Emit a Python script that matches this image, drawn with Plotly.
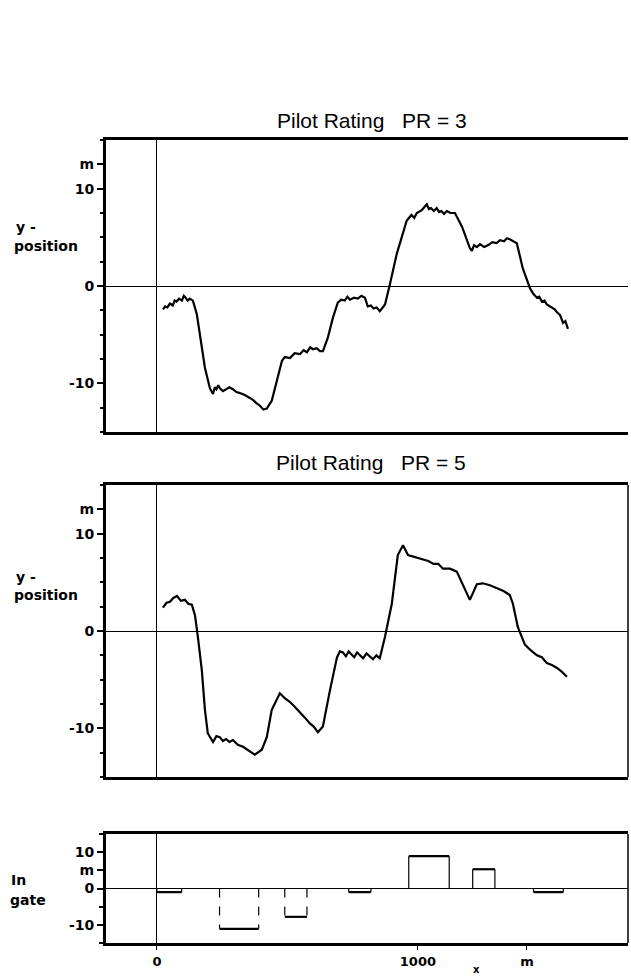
import plotly.graph_objects as go

# ---------------- data ----------------
pr3_x = [23, 32, 40, 50, 61, 68, 75, 85, 96, 103, 110, 118, 126, 138, 153, 165, 184, 203, 215,
         222, 228, 235, 241, 253, 265, 278, 291, 305, 318, 337, 356, 368, 380, 395, 408, 421,
         440, 460, 479, 490, 510, 528, 548, 562, 575, 587, 598, 612, 625, 636, 655, 674, 693,
         706, 720, 730, 740, 755, 770, 784, 797, 808, 820, 830, 842, 854, 874, 893, 919, 957,
         975, 986, 996, 1015, 1034, 1042, 1050, 1061, 1072, 1081, 1090, 1100, 1111, 1125, 1142,
         1169, 1199, 1207, 1215, 1226, 1238, 1254, 1270, 1285, 1301, 1315, 1330, 1341, 1352,
         1379, 1402, 1429, 1442, 1456, 1465, 1475, 1485, 1494, 1505, 1515, 1524, 1533, 1545,
         1556, 1565, 1575]
pr3_y = [-2.4, -2.1, -2.2, -1.8, -2.0, -1.5, -1.6, -1.3, -1.5, -1.0, -1.2, -1.5, -1.3, -1.5,
         -2.9, -4.9, -8.4, -10.5, -11.1, -10.4, -10.6, -10.2, -10.5, -10.8, -10.6, -10.4, -10.6,
         -10.9, -11.0, -11.2, -11.5, -11.7, -12.0, -12.3, -12.7, -12.6, -11.8, -9.7, -7.7, -7.3,
         -7.4, -6.9, -7.0, -6.6, -6.8, -6.3, -6.5, -6.4, -6.7, -6.7, -5.3, -3.3, -1.7, -1.4,
         -1.5, -1.1, -1.4, -1.2, -1.3, -1.0, -1.2, -2.1, -2.0, -2.3, -2.2, -2.6, -1.9, 0.2, 3.3,
         6.7, 7.3, 7.0, 7.5, 7.8, 8.4, 7.9, 8.0, 7.7, 8.0, 7.6, 7.7, 7.4, 7.7, 7.5, 7.5, 6.1,
         3.9, 3.6, 4.2, 4.0, 4.3, 4.0, 4.2, 4.5, 4.4, 4.7, 4.6, 4.9, 4.8, 4.4, 1.8, -0.2,
         -0.8, -1.2, -1.1, -1.6, -1.5, -1.9, -2.1, -2.3, -2.4, -2.7, -3.0, -3.8, -3.6, -4.4]

pr5_x = [23, 37, 50, 63, 77, 92, 107, 120, 134, 146, 157, 172, 184, 195, 215, 228, 241, 253,
         265, 278, 291, 310, 330, 352, 375, 402, 421, 440, 471, 490, 510, 529, 548, 567, 586,
         600, 617, 636, 663, 690, 701, 713, 724, 735, 745, 756, 767, 778, 790, 803, 815, 828,
         841, 854, 874, 900, 923, 943, 962, 990, 1019, 1040, 1060, 1078, 1096, 1123, 1149,
         1172, 1199, 1226, 1249, 1276, 1303, 1328, 1352, 1364, 1383, 1410, 1433, 1456, 1475,
         1494, 1513, 1533, 1552, 1571]
pr5_y = [2.4, 2.9, 3.0, 3.4, 3.6, 3.1, 3.2, 2.8, 2.7, 1.6, -0.6, -4.0, -8.1, -10.5, -11.4,
         -10.8, -10.9, -11.3, -11.1, -11.4, -11.2, -11.7, -11.9, -12.3, -12.7, -12.2, -10.9,
         -8.1, -6.4, -6.9, -7.3, -7.8, -8.3, -8.9, -9.5, -9.8, -10.4, -9.8, -6.1, -2.7, -2.1,
         -2.2, -2.6, -2.1, -2.4, -2.7, -2.2, -2.5, -2.8, -2.3, -2.6, -2.9, -2.5, -2.8, -0.6,
         2.8, 7.8, 8.8, 7.8, 7.6, 7.4, 7.2, 6.9, 6.9, 6.4, 6.4, 6.1, 4.8, 3.2, 4.8, 4.9, 4.7,
         4.4, 4.1, 3.7, 2.8, 0.4, -1.4, -2.0, -2.5, -2.7, -3.3, -3.5, -3.8, -4.2, -4.7]

gate_start = [0, 240, 490, 735, 965, 1210, 1443]
gate_end = [95, 390, 575, 820, 1120, 1295, 1557]
gate_value = [-1.0, -11.1, -7.8, -1.0, 8.9, 5.3, -1.0]

y_tickvals = [-10, 0, 10, 12.5]
y_ticktext = ["-10", "0", "10", "m"]
gate_tickvals = [-10, 0, 5, 10]
gate_ticktext = ["-10", "0", "m", "10"]
x_tickvals = [0, 1000, 1418]
x_ticktext = ["0", "1000", "m"]

# ---------------- layout helpers ----------------
W, H = 631, 979


def py(p):
    return 1 - p / H


XDOM = [106 / W, 628 / W]
XR = [-195, 1805]
TICKFONT = dict(family="DejaVu Sans", size=14, color="black", weight="bold")
LABFONT = dict(family="DejaVu Sans", size=14, color="black", weight="bold")

fig = go.Figure()

fig.add_trace(go.Scatter(x=pr3_x, y=pr3_y, xaxis="x", yaxis="y", mode="lines",
                         line=dict(color="black", width=2.2), showlegend=False))
fig.add_trace(go.Scatter(x=pr5_x, y=pr5_y, xaxis="x2", yaxis="y2", mode="lines",
                         line=dict(color="black", width=2.2), showlegend=False))

for s, e, v in zip(gate_start, gate_end, gate_value):
    fig.add_trace(go.Scatter(x=[s, e], y=[v, v], xaxis="x3", yaxis="y3", mode="lines",
                             line=dict(color="black", width=2.2), showlegend=False))
    fig.add_trace(go.Scatter(x=[s, s, None, e, e], y=[0, v, None, 0, v], xaxis="x3", yaxis="y3",
                             mode="lines",
                             line=dict(color="black", width=1.2,
                                       dash="dash" if v < -2 else "solid"),
                             showlegend=False))

xcommon = dict(range=XR, domain=XDOM, showline=True, linecolor="black", linewidth=2.5,
               mirror=True, zeroline=True, zerolinecolor="black", zerolinewidth=1,
               showgrid=False, fixedrange=True)
ycommon = dict(range=[-15, 15], showline=True, linecolor="black", linewidth=3,
               ticks="outside", ticklen=6, tickwidth=1.5, tickcolor="black",
               tickfont=TICKFONT, tickmode="array", zeroline=True, zerolinecolor="black",
               zerolinewidth=1, showgrid=False, fixedrange=True)

fig.update_layout(
    width=W, height=H,
    margin=dict(l=0, r=0, t=0, b=0),
    paper_bgcolor="white", plot_bgcolor="white",
    showlegend=False,
    xaxis=dict(xcommon, anchor="y", showticklabels=False, ticks=""),
    xaxis2=dict(xcommon, anchor="y2", showticklabels=False, ticks=""),
    xaxis3=dict(xcommon, anchor="y3", showticklabels=True, tickmode="array",
                tickvals=x_tickvals, ticktext=x_ticktext, ticks="outside", ticklen=4,
                tickcolor="black", tickfont=dict(TICKFONT, size=13), ticklabelstandoff=1),
    yaxis=dict(ycommon, anchor="x", domain=[py(432), py(140)],
               tickvals=y_tickvals, ticktext=y_ticktext,
               minor=dict(tickmode="array",
                          tickvals=[-15, -12.5, -7.5, -5, -2.5, 2.5, 5, 7.5, 15],
                          ticks="outside", ticklen=3, tickcolor="black")),
    yaxis2=dict(ycommon, anchor="x2", domain=[py(777), py(485)],
                tickvals=y_tickvals, ticktext=y_ticktext,
                minor=dict(tickmode="array",
                           tickvals=[-15, -12.5, -7.5, -5, -2.5, 2.5, 5, 7.5, 15],
                           ticks="outside", ticklen=3, tickcolor="black")),
    yaxis3=dict(ycommon, anchor="x3", domain=[py(943), py(834)],
                tickvals=gate_tickvals, ticktext=gate_ticktext,
                minor=dict(tickmode="array", tickvals=[-15, -5, 15],
                           ticks="outside", ticklen=4, tickcolor="black")),
)

# right borders of the lower two panels
for ax in ["x2", "x3"]:
    yax = "y2" if ax == "x2" else "y3"
    fig.add_shape(type="line", xref=f"{ax} domain", yref=f"{yax} domain",
                  x0=1, x1=1, y0=0, y1=1, line=dict(color="black", width=1.5))

TITLEFONT = dict(family="Liberation Sans, Arial", size=21, color="black")
ann = [
    dict(text="Pilot Rating\u00a0\u00a0\u00a0PR = 3", x=372 / W, y=py(121), font=TITLEFONT,
         xanchor="center"),
    dict(text="Pilot Rating\u00a0\u00a0\u00a0PR = 5", x=371 / W, y=py(462), font=TITLEFONT,
         xanchor="center"),
    dict(text="y -", x=14 / W, y=py(227), font=LABFONT, xanchor="left"),
    dict(text="position", x=12 / W, y=py(246), font=LABFONT, xanchor="left"),
    dict(text="y -", x=14 / W, y=py(577), font=LABFONT, xanchor="left"),
    dict(text="position", x=12 / W, y=py(595), font=LABFONT, xanchor="left"),
    dict(text="In", x=9 / W, y=py(880), font=LABFONT, xanchor="left"),
    dict(text="gate", x=8 / W, y=py(900), font=LABFONT, xanchor="left"),
    dict(text="x", x=476 / W, y=py(969), font=dict(LABFONT, size=10), xanchor="center"),
]
for a in ann:
    fig.add_annotation(xref="paper", yref="paper", showarrow=False, yanchor="middle", **a)

fig.write_html("out.html", config={"displayModeBar": False},
               post_script="document.body.style.margin='0';document.body.style.overflow='hidden';")
